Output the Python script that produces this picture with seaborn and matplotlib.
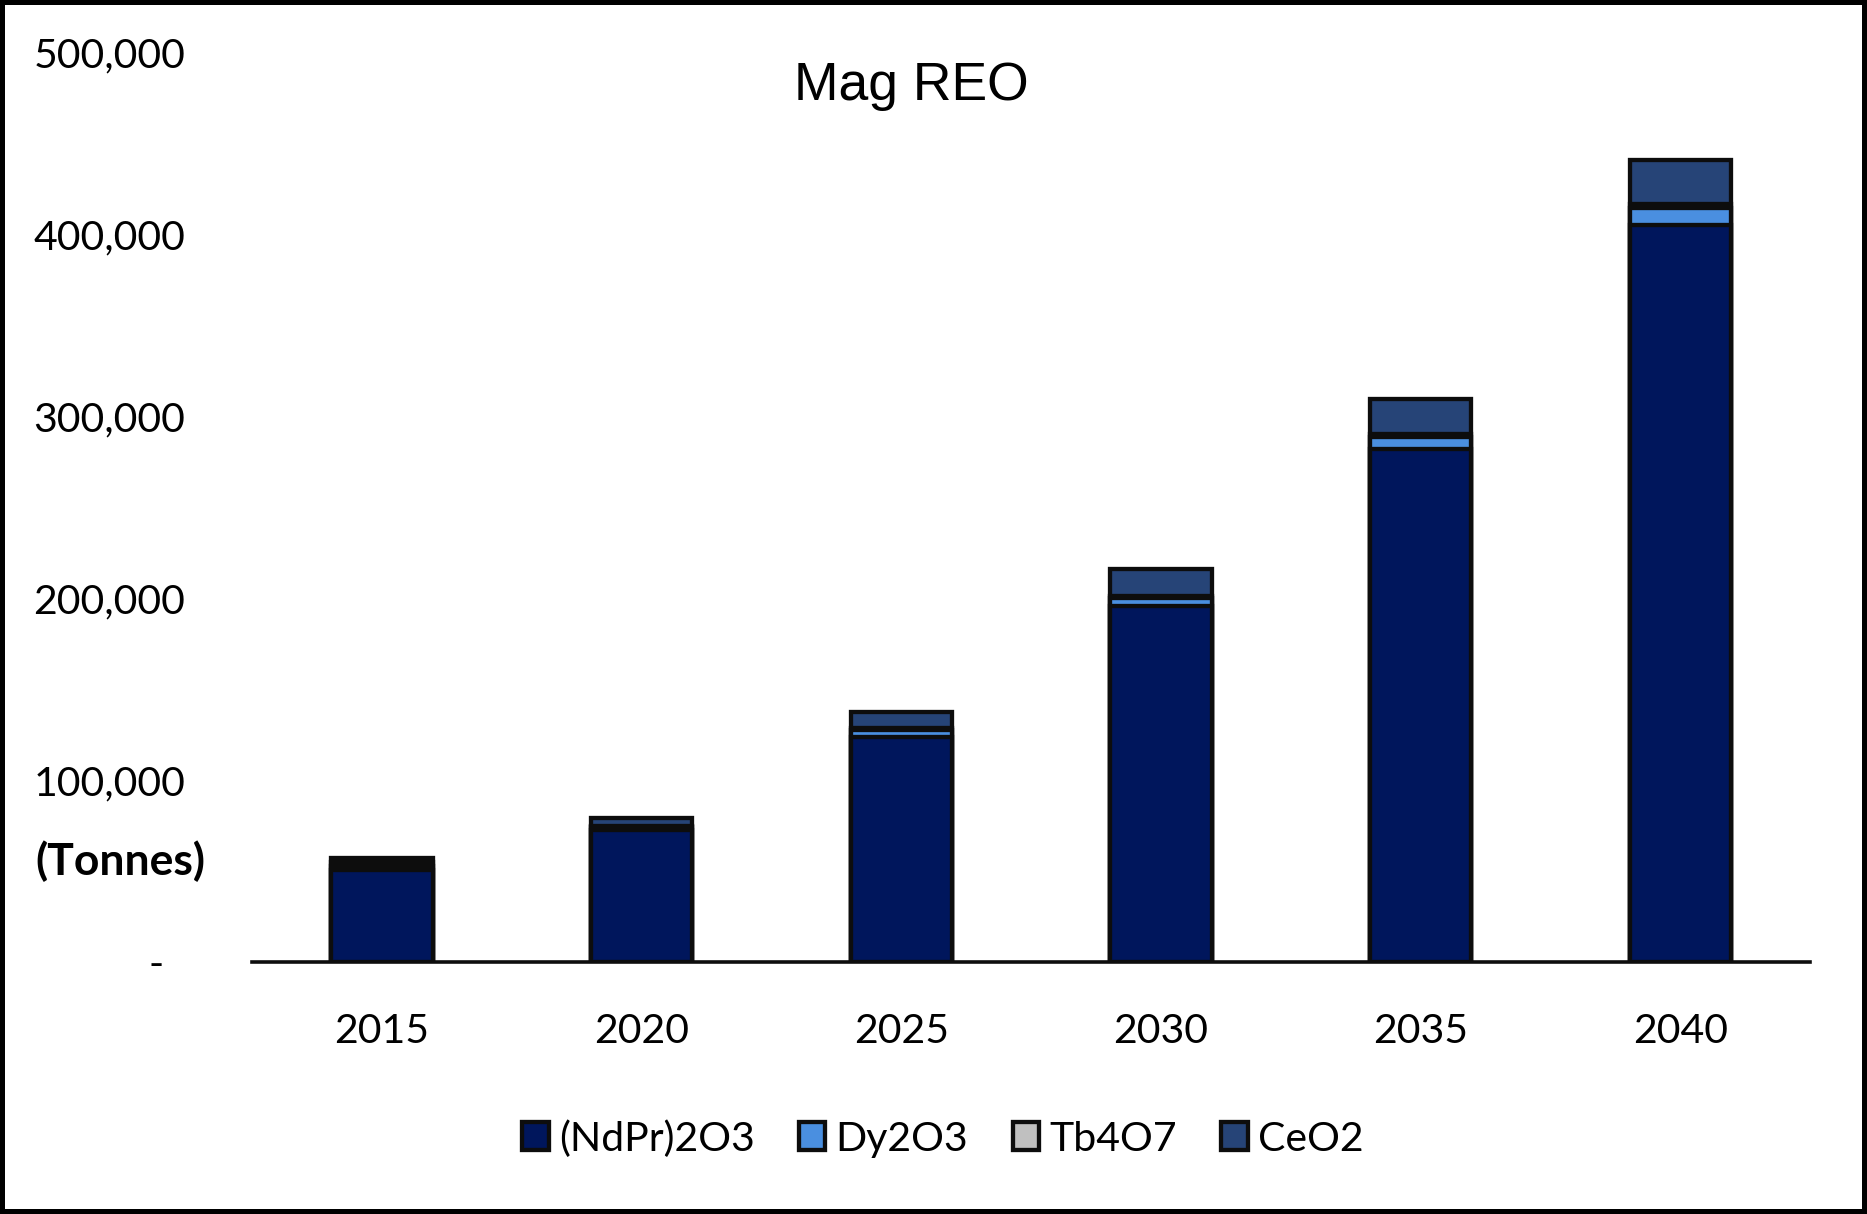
import matplotlib
matplotlib.use("Agg")
import matplotlib.pyplot as plt
import seaborn as sns
import pandas as pd
from matplotlib.patches import Patch

# ------------------------------------------------------------------
# Data (tonnes)
# ------------------------------------------------------------------
years = ["2015", "2020", "2025", "2030", "2035", "2040"]
ndpr2o3 = [50300, 72400, 123900, 195500, 282100, 405200]
dy2o3 = [2400, 1800, 3500, 4500, 6400, 9000]
tb4o7 = [2000, 800, 1000, 1200, 1600, 2400]
ceo2 = [2400, 4200, 8800, 14800, 19200, 24300]

series_names = ["(NdPr)2O3", "Dy2O3", "Tb4O7", "CeO2"]
series_colors = ["#00165C", "#4A8FE0", "#C0C0C0", "#264477"]
edge_color = "#0D0D0D"

y_ticks = [0, 100000, 200000, 300000, 400000, 500000]
y_tick_labels = ["-\u00a0\u00a0", "100,000", "200,000", "300,000",
                 "400,000", "500,000"]


def main():
    df = pd.DataFrame({
        "year": years,
        "(NdPr)2O3": ndpr2o3,
        "Dy2O3": dy2o3,
        "Tb4O7": tb4o7,
        "CeO2": ceo2,
    })

    sns.set_style("white")
    plt.rcParams["font.family"] = ["Lato", "DejaVu Sans"]
    plt.rcParams["text.color"] = "black"

    fig = plt.figure(figsize=(18.67, 12.14), dpi=100)
    ax = fig.add_axes([0.135, 0.2076, 0.8345, 0.7494])

    # stacked bars: draw cumulative totals from the top layer down
    cum = df[series_names].cumsum(axis=1)
    for name, color in reversed(list(zip(series_names, series_colors))):
        sns.barplot(x=df["year"], y=cum[name], order=years, color=color,
                    saturation=1, width=0.39, edgecolor=edge_color,
                    linewidth=3.1, ax=ax)

    ax.set_xlim(-0.5, 5.5)
    ax.set_ylim(0, 500000)
    ax.set_yticks(y_ticks)
    ax.set_yticklabels(y_tick_labels)
    ax.set_xlabel("")
    ax.set_ylabel("")

    for side in ["top", "right", "left"]:
        ax.spines[side].set_visible(False)
    ax.spines["bottom"].set_color(edge_color)
    ax.spines["bottom"].set_linewidth(2.6)
    ax.tick_params(axis="y", length=0, pad=48, labelsize=29.5, labelcolor="black")
    ax.tick_params(axis="x", length=0, pad=37, labelsize=29.5, labelcolor="black")

    fig.text(0.488, 0.929, "Mag REO", ha="center", va="center",
             fontsize=38.5, family="Liberation Sans", color="black")
    fig.text(0.019, 0.291, "(Tonnes)", ha="left", va="center",
             fontsize=32, fontweight="bold", color="black")

    handles = [Patch(facecolor=c, edgecolor=edge_color, linewidth=3.1)
               for c in series_colors]
    fig.legend(handles, series_names, loc="center", ncol=4,
               bbox_to_anchor=(0.505, 0.062), frameon=False, fontsize=29.5,
               handlelength=0.65, handleheight=0.65, handletextpad=0.25,
               columnspacing=1.08)

    fig.patch.set_edgecolor("black")
    fig.patch.set_linewidth(6)
    fig.savefig("out.png", dpi=100)


if __name__ == "__main__":
    main()
